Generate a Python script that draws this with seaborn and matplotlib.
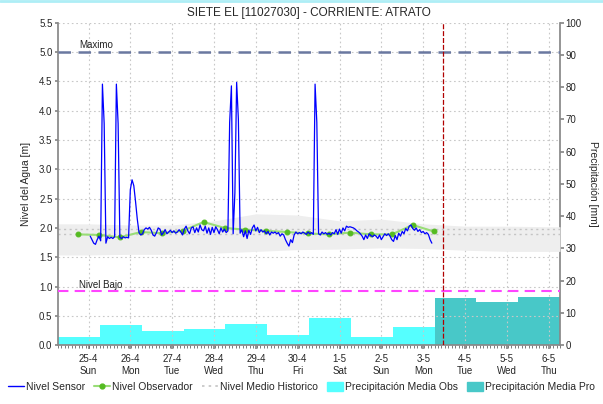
import numpy as np
import pandas as pd
import matplotlib
matplotlib.use("Agg")
import matplotlib.pyplot as plt
from matplotlib.lines import Line2D
from matplotlib.patches import Patch
import seaborn as sns

sns.set_theme(style="white")
plt.rcParams["font.family"] = ["Liberation Sans", "DejaVu Sans"]

# ---------------- data ----------------
title = "SIETE EL [11027030] - CORRIENTE: ATRATO"
day_labels = ["25-4\nSun", "26-4\nMon", "27-4\nTue", "28-4\nWed", "29-4\nThu", "30-4\nFri",
              "1-5\nSat", "2-5\nSun", "3-5\nMon", "4-5\nTue", "5-5\nWed", "6-5\nThu"]
day_ticks = [1, 2, 3, 4, 5, 6, 7, 8, 9, 10, 11, 12]   # days since 24-4 00:00

nivel_maximo = 5.0
nivel_bajo = 0.93
medio_hist_a = 1.98
medio_hist_b = 1.90

# sensor: hourly readings starting 25-4 01:00
sensor_start = 1.04
sensor = [1.86, 1.80, 1.74, 1.72, 1.80, 1.86, 1.78, 4.45, 3.78, 1.74,
          1.85, 1.82, 1.84, 1.82, 1.85, 4.45, 3.78, 1.84, 1.82, 1.85,
          1.83, 1.84, 1.83, 2.65, 2.82, 2.72, 2.45, 2.15, 1.92, 1.88,
          1.90, 1.97, 2.00, 1.98, 2.01, 1.96, 1.88, 1.86, 1.92, 2.00,
          1.98, 1.88, 1.92, 1.97, 1.90, 1.93, 1.96, 1.92, 1.95, 1.91,
          1.93, 1.97, 1.93, 1.88, 1.98, 2.03, 1.95, 1.90, 2.00, 2.02,
          1.92, 2.00, 1.93, 2.05, 1.97, 1.95, 2.03, 1.91, 2.00, 1.89,
          2.01, 1.92, 2.02, 1.97, 1.90, 2.00, 1.93, 1.98, 1.92, 1.95,
          3.80, 4.42, 1.90, 2.60, 4.48, 3.85, 1.91, 1.97, 1.85, 1.95,
          1.82, 1.96, 1.89, 2.00, 2.05, 1.95, 2.01, 1.92, 1.97, 1.93,
          1.95, 1.90, 1.94, 1.88, 1.93, 1.91, 1.93, 1.90, 1.92, 1.86,
          1.90, 1.88, 1.80, 1.74, 1.69, 1.80, 1.75, 1.88, 1.93, 1.90,
          1.92, 1.90, 1.93, 1.91, 1.89, 1.93, 1.90, 1.92, 1.89, 4.45,
          3.80, 1.90, 1.88, 1.93, 1.90, 1.92, 1.89, 1.91, 1.88, 1.92,
          1.90, 1.97, 1.89, 1.98, 1.91, 2.00, 1.95, 2.03, 2.01, 2.02,
          2.01, 2.00, 1.98, 1.95, 1.93, 1.90, 1.86, 1.80, 1.88, 1.82,
          1.90, 1.87, 1.85, 1.88, 1.86, 1.82, 1.88, 1.80, 1.85, 1.90,
          1.87, 1.90, 1.86, 1.80, 1.77, 1.87, 1.80, 1.91, 1.86, 1.94,
          1.90, 1.99, 1.95, 2.03, 2.05, 1.99, 1.96, 2.00, 1.94, 1.97,
          1.92, 1.94, 1.90, 1.92, 1.89, 1.80, 1.74]

# observer: readings at 18:00 and 06:00 starting 24-4 18:00
obs_start = 0.75
observador = [1.89, 1.88, 1.84, 1.93, 1.91, 1.95, 2.10, 2.00, 1.97,
              1.95, 1.93, 1.905, 1.89, 1.92, 1.89, 1.89, 2.05, 1.94]

# historical band (daily)
band_days = [0.27, 1, 2, 3, 4, 5, 6, 7, 8, 9, 10, 11, 12, 12.27]
band_upper = [2.07, 2.07, 2.05, 2.05, 2.12, 2.24, 2.22, 2.12, 2.15, 2.07, 2.03, 2.03, 2.02, 2.02]
band_lower = [1.54, 1.54, 1.55, 1.55, 1.57, 1.60, 1.63, 1.64, 1.66, 1.65, 1.62, 1.60, 1.60, 1.60]

# precipitation (daily, 06:30 to 06:30)
precip_start = 0.27
precip_obs = [2.5, 6.4, 4.5, 5.1, 6.7, 3.3, 8.5, 2.5, 5.7]
precip_pro = [14.7, 13.5, 15.0]

now_line = 9.48

# ---------------- figure ----------------
fig = plt.figure(figsize=(6.03, 4.04), dpi=100)
ax = fig.add_axes([0.0962, 0.1453, 0.8325, 0.799])
ax2 = ax.twinx()
ax.set_zorder(2)
ax.patch.set_visible(False)
ax2.set_zorder(1)

xmin, xmax = 0.27, 12.27

# precipitation bars on the secondary axis
obs_x = [precip_start + i for i in range(len(precip_obs))]
pro_x = [precip_start + len(precip_obs) + i for i in range(len(precip_pro))]
ax2.bar(obs_x, precip_obs, width=1.0, align="edge", color="#55FFFF", linewidth=0, zorder=2)
ax2.bar(pro_x, precip_pro, width=1.0, align="edge", color="#48C8C8", linewidth=0, zorder=2)
ax2.set_ylim(0, 100)
ax2.set_yticks(range(0, 101, 10))
ax2.set_ylabel("Precipitación [mm]", rotation=-90, labelpad=12, fontsize=7.5)

# grid
for yv in np.arange(0, 5.51, 0.5):
    ax.axhline(yv, color="#C8C8C8", lw=0.8, ls=(0, (1.5, 2.5)), zorder=0)
for xv in day_ticks:
    ax.axvline(xv, color="#C8C8C8", lw=0.8, ls=(0, (1.5, 2.5)), zorder=0)

# historical band and median
ax.fill_between(band_days, band_lower, band_upper, color="#EEEEEE", linewidth=0, zorder=1)
ax.axhline(medio_hist_a, color="#C4C4C4", lw=1.0, ls=(0, (1.5, 2.5)), zorder=1.5)
ax.axhline(medio_hist_b, color="#C4C4C4", lw=1.0, ls=(0, (1.5, 2.5)), zorder=1.5)

# thresholds
ax.axhline(nivel_maximo, color="#6A78A0", lw=1.8, ls=(0, (5, 3)), zorder=3)
ax.axhline(nivel_bajo, color="#FF44FF", lw=1.5, ls=(0, (5, 3)), zorder=3)
ax.text(0.77, nivel_maximo + 0.03, "Maximo", fontsize=7, color="#222222", va="bottom", zorder=4)
ax.text(0.77, nivel_bajo + 0.02, "Nivel Bajo", fontsize=7, color="#222222", va="bottom", zorder=4)

# sensor and observer
df_s = pd.DataFrame({"t": [sensor_start + i / 24 for i in range(len(sensor))], "nivel": sensor})
df_o = pd.DataFrame({"t": [obs_start + 0.5 * i for i in range(len(observador))], "nivel": observador})
sns.lineplot(data=df_o, x="t", y="nivel", ax=ax, color="#99DD77", lw=1.5, zorder=4,
             marker="o", markersize=3.5, markerfacecolor="#55BB22", markeredgecolor="#55BB22")
sns.lineplot(data=df_s, x="t", y="nivel", ax=ax, color="#0000FF", lw=0.9, zorder=5)

# now line
ax.axvline(now_line, color="#B00000", lw=0.9, ls=(0, (4, 1.5)), zorder=6)

ax.set_xlim(xmin, xmax)
ax.set_ylim(0, 5.5)
ax.set_yticks(np.arange(0, 5.51, 0.5))
ax.set_yticklabels([f"{v:.1f}" for v in np.arange(0, 5.51, 0.5)])
ax.set_xticks(day_ticks)
ax.set_xticklabels(day_labels, fontsize=7, linespacing=1.25)
ax.set_xticks([xmin + k / 12 for k in range(int(12 * 12) + 1)], minor=True)
ax.set_xlabel("")
ax.set_ylabel("Nivel del Agua [m]", fontsize=7.5, labelpad=6)

for a in (ax, ax2):
    for s in a.spines.values():
        s.set_visible(False)
ax.spines["left"].set_visible(True)
ax.spines["left"].set_color("#888888")
ax.spines["bottom"].set_visible(True)
ax.spines["bottom"].set_color("#888888")
ax2.spines["right"].set_visible(True)
ax2.spines["right"].set_color("#888888")

ax.tick_params(axis="y", labelsize=7, length=2, color="#888888", direction="out", left=True, pad=2)
ax.tick_params(axis="x", which="major", length=3, color="#888888", bottom=True, pad=3)
ax.tick_params(axis="x", which="minor", length=2, width=0.6, color="#666666", bottom=True)
ax2.tick_params(axis="y", labelsize=7, length=3, color="#888888", right=True, pad=1)

ax.set_title(title, fontsize=8.5, pad=5)

# top cyan stripe
fig.add_artist(Line2D([0, 1], [0.997, 0.997], transform=fig.transFigure, color="#AEEEF6", lw=2))

handles = [
    Line2D([], [], color="#0000FF", lw=1.0),
    Line2D([], [], color="#99DD77", lw=1.5, marker="o", markersize=3.5,
           markerfacecolor="#55BB22", markeredgecolor="#55BB22"),
    Line2D([], [], color="#C4C4C4", lw=1.2, ls=(0, (1.5, 2.5))),
    Patch(color="#55FFFF"),
    Patch(color="#48C8C8"),
]
labels = ["Nivel Sensor", "Nivel Observador", "Nivel Medio Historico",
          "Precipitación Media Obs", "Precipitación Media Pro"]
fig.legend(handles, labels, loc="center", bbox_to_anchor=(0.5, 0.042), ncol=5, frameon=False,
           fontsize=7.5, handlelength=1.5, handletextpad=0.2, columnspacing=0.9, handleheight=1.0,
           borderaxespad=0, borderpad=0)

fig.savefig("out.png", dpi=100)
